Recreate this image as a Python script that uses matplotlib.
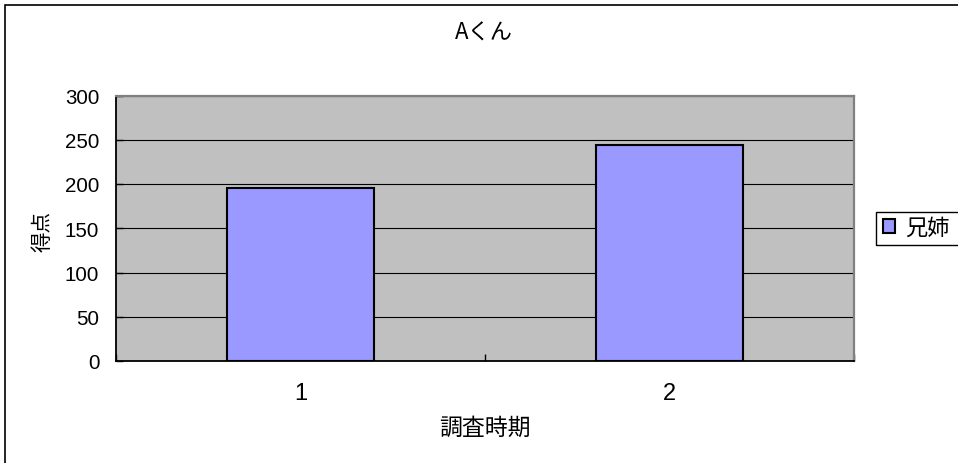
import matplotlib
matplotlib.use("Agg")
import matplotlib.pyplot as plt
from matplotlib.patches import Rectangle
from matplotlib.ticker import FixedLocator, NullFormatter

plt.rcParams['font.family'] = ['Liberation Sans', 'Noto Sans CJK JP', 'DejaVu Sans']

# Data
title = "Aくん"
categories = ["1", "2"]
series_name = "兄姉"
scores = [196, 244]
y_ticks = [0, 50, 100, 150, 200, 250, 300]
x_label = "調査時期"
y_label = "得点"

W, H = 958, 464
fig = plt.figure(figsize=(W / 100, H / 100), dpi=100)
fig.patch.set_facecolor("white")

# outer chart frame (runs past the right and bottom edges)
fig.patches.append(Rectangle((5.3 / W, -0.1), 1.2, 1 - 6 / H + 0.1,
                             transform=fig.transFigure, fill=False,
                             edgecolor="black", linewidth=1.2))

left, right, top, bottom = 116, 854, 96.5, 362
ax = fig.add_axes([left / W, 1 - bottom / H, (right - left) / W, (bottom - top) / H])
ax.set_facecolor("#C0C0C0")

x = list(range(len(categories)))
bars = ax.bar(x, scores, width=0.4, color="#9999FF", edgecolor="black",
              linewidth=1.5, zorder=3, label=series_name)

ax.set_xlim(-0.5, len(categories) - 0.5)
ax.set_ylim(y_ticks[0], y_ticks[-1])
ax.set_yticks(y_ticks)
ax.yaxis.grid(True, color="black", linewidth=0.8, zorder=1)
ax.set_axisbelow(True)

ax.set_xticks(x)
ax.set_xticklabels(categories)
ax.xaxis.set_minor_locator(FixedLocator([i - 0.5 for i in range(len(categories) + 1)]))
ax.xaxis.set_minor_formatter(NullFormatter())
ax.tick_params(axis="x", which="major", length=0, pad=15, labelsize=17)
ax.tick_params(axis="x", which="minor", direction="in", length=5, width=1, color="black")
ax.tick_params(axis="y", direction="in", length=5, width=1, pad=12, labelsize=14.8)

for side in ("left", "bottom"):
    ax.spines[side].set_color("black")
    ax.spines[side].set_linewidth(1.3)
for side in ("top", "right"):
    ax.spines[side].set_color("#808080")
    ax.spines[side].set_linewidth(1.6)

ax.set_xlabel(x_label, fontsize=16.5)
ax.xaxis.set_label_coords(0.5, -0.205)
ax.set_ylabel(y_label, fontsize=14.8)
ax.yaxis.set_label_coords(-0.086, 0.49)

fig.text(484 / W, 1 - 33 / H, title, ha="center", va="center", fontsize=16,
         family=['Noto Sans CJK JP', 'DejaVu Sans'])

# legend entry, with its frame running past the right edge
leg = ax.legend(handles=[bars.patches[0]], labels=[series_name],
                loc="center left", bbox_to_anchor=(882.5 / W, 1 - 229.5 / H),
                bbox_transform=fig.transFigure, frameon=False,
                fontsize=16, handlelength=0.58, handleheight=0.58,
                handletextpad=0.42, borderpad=0, borderaxespad=0)
fig.patches.append(Rectangle((876 / W, 1 - 245.7 / H), 0.2, 33 / H,
                             transform=fig.transFigure, fill=False,
                             edgecolor="black", linewidth=1.0))

fig.savefig("out.png", dpi=100)
